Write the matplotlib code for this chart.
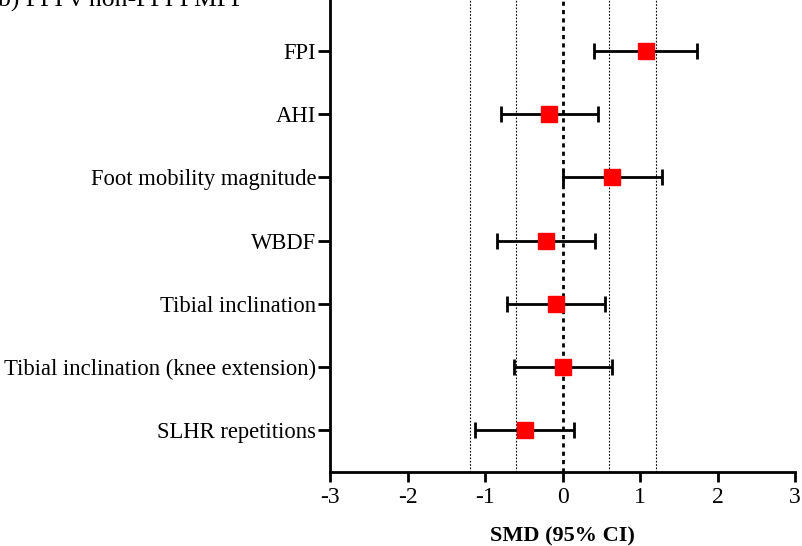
import matplotlib
matplotlib.use("Agg")
import matplotlib.pyplot as plt

plt.rcParams['font.family'] = ['Liberation Serif', 'DejaVu Serif']

# outcomes, top to bottom
outcomes = ["FPI", "AHI", "Foot mobility magnitude", "WBDF",
            "Tibial inclination", "Tibial inclination (knee extension)",
            "SLHR repetitions"]
smd = [1.08, -0.17, 0.64, -0.21, -0.08, 0.01, -0.49]
ci_low = [0.41, -0.79, 0.00, -0.84, -0.71, -0.62, -1.13]
ci_high = [1.74, 0.46, 1.29, 0.42, 0.55, 0.64, 0.15]
ref_lines = [-1.2, -0.6, 0.6, 1.2]

fig = plt.figure(figsize=(8.02, 5.46), dpi=100)
ax = fig.add_axes([330 / 802, 1 - 472 / 546, 465 / 802, 472 / 546])

n = len(outcomes)
ypos = list(range(n, 0, -1))
xerr = [[m - lo for m, lo in zip(smd, ci_low)], [hi - m for m, hi in zip(smd, ci_high)]]

for x in ref_lines:
    ax.axvline(x, color='black', lw=0.8, ls=(0, (1.5, 1.5)), zorder=1)
ax.axvline(0, color='black', lw=2.0, ls=(0, (1.5, 1.5)), zorder=1)

ax.errorbar(smd, ypos, xerr=xerr, fmt='none', ecolor='black', elinewidth=2,
            capsize=6, capthick=2, zorder=2)
ax.plot(smd, ypos, 's', color='#ff0000', markersize=12, zorder=3)

ax.set_xlim(-3, 3)
ax.set_ylim(1 - 42 / 63, n + 51 / 63)
ax.set_xticks([-3, -2, -1, 0, 1, 2, 3])
ax.set_xticklabels(['-3', '-2', '-1', '0', '1', '2', '3'], fontsize=17)
ax.set_yticks(ypos)
ax.set_yticklabels(outcomes, fontsize=16.3)
ax.tick_params(axis='x', direction='out', length=7, width=2, pad=4)
ax.tick_params(axis='y', direction='out', length=9, width=2, pad=1)
ax.spines['top'].set_visible(False)
ax.spines['right'].set_visible(False)
ax.spines['left'].set_linewidth(2)
ax.spines['bottom'].set_linewidth(2)
ax.set_xlabel('SMD (95% CI)', fontsize=16, fontweight='bold', labelpad=13)

fig.text(-0.003, 1 - 7 / 546, 'b) FPI v non-FPI PMPF', fontsize=18.5, va='baseline', ha='left')

fig.savefig('out.png', dpi=100)
